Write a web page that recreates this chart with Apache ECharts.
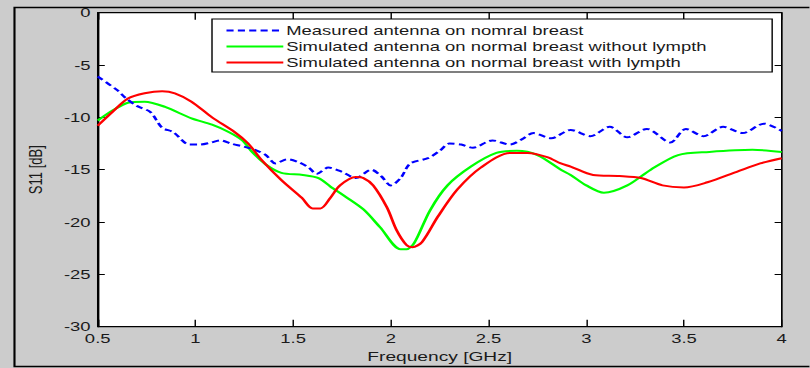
<!DOCTYPE html>
<html>
<head>
<meta charset="utf-8">
<script src="https://cdn.jsdelivr.net/npm/echarts@6/dist/echarts.min.js"></script>
<style>
  html, body { margin: 0; padding: 0; background: #cccccc; overflow: hidden; }
  #wrap { width: 810px; height: 368px; overflow: hidden; }
  /* the figure is laid out narrow and widened horizontally, like the exported plot */
  #chart { width: 570.4px; height: 368px; transform: scaleX(1.42); transform-origin: 0 0; }
</style>
</head>
<body>
<div id="wrap"><div id="chart"></div></div>
<script>
// Return loss S11 versus frequency for the breast-phantom antenna
const xTicks = [0.5, 1, 1.5, 2, 2.5, 3, 3.5, 4];
const yTicks = [0, -5, -10, -15, -20, -25, -30];

const seriesNames = [
  'Measured antenna on nomral breast',
  'Simulated antenna on normal breast without lympth',
  'Simulated antenna on normal breast with lympth'
];

const measuredFreq = [0.5, 0.6, 0.64, 0.7, 0.77, 0.83, 0.886, 0.97, 1.02, 1.08, 1.13, 1.18, 1.25, 1.305, 1.36, 1.41, 1.47, 1.53, 1.58, 1.62, 1.68, 1.75, 1.82, 1.9, 1.95, 2.0, 2.05, 2.1, 2.19, 2.25, 2.3, 2.36, 2.42, 2.52, 2.61, 2.67, 2.73, 2.82, 2.92, 3.02, 3.12, 3.21, 3.31, 3.43, 3.51, 3.6, 3.7, 3.8, 3.91, 4.0];
const measuredS11 = [-6.1, -7.4, -8.1, -8.9, -9.5, -11.0, -11.4, -12.6, -12.6, -12.4, -12.2, -12.5, -12.8, -13.1, -13.6, -14.4, -14.0, -14.3, -14.8, -15.4, -14.8, -15.2, -15.8, -15.0, -15.6, -16.5, -15.8, -14.4, -13.9, -13.2, -12.5, -12.6, -12.9, -12.2, -12.6, -12.1, -11.5, -12.0, -11.2, -11.8, -10.9, -11.9, -11.1, -12.4, -11.1, -11.8, -10.9, -11.5, -10.6, -11.3];

const noLymphFreq = [0.5, 0.58, 0.655, 0.74, 0.845, 0.98, 1.085, 1.17, 1.24, 1.29, 1.36, 1.44, 1.55, 1.63, 1.69, 1.77, 1.86, 1.945, 2.05, 2.08, 2.12, 2.2, 2.29, 2.41, 2.54, 2.645, 2.75, 2.87, 2.92, 3.0, 3.09, 3.21, 3.33, 3.47, 3.63, 3.85, 4.0];
const noLymphS11 = [-10.3, -9.3, -8.6, -8.5, -9.0, -10.1, -10.7, -11.4, -12.2, -13.3, -14.5, -15.3, -15.5, -15.8, -16.6, -17.6, -18.8, -20.5, -22.6, -22.6, -22.0, -18.9, -16.5, -14.7, -13.4, -13.2, -13.6, -15.0, -15.5, -16.5, -17.2, -16.5, -15.0, -13.6, -13.3, -13.1, -13.3];

const lymphFreq = [0.5, 0.58, 0.655, 0.74, 0.83, 0.895, 0.98, 1.085, 1.2, 1.27, 1.34, 1.44, 1.545, 1.6, 1.64, 1.69, 1.74, 1.82, 1.86, 1.91, 1.98, 2.03, 2.08, 2.11, 2.16, 2.24, 2.34, 2.46, 2.61, 2.7, 2.8, 2.87, 2.92, 3.035, 3.17, 3.28, 3.39, 3.5, 3.62, 3.77, 3.89, 4.0];
const lymphS11 = [-10.8, -9.4, -8.2, -7.7, -7.5, -7.7, -8.5, -10.0, -11.4, -12.5, -14.1, -16.0, -17.7, -18.7, -18.7, -17.7, -16.5, -15.7, -15.8, -16.5, -18.6, -20.8, -22.2, -22.4, -21.9, -19.5, -16.9, -14.8, -13.4, -13.4, -13.8, -14.4, -14.7, -15.5, -15.6, -15.8, -16.5, -16.7, -16.2, -15.2, -14.4, -13.9];

const zip = (xs, ys) => xs.map((x, i) => [x, ys[i]]);

const font = 'Liberation Sans, Arial, sans-serif';
const textColor = '#1a1a1a';

const chart = echarts.init(document.getElementById('chart'), null, { renderer: 'svg' });

const baseX = {
  type: 'value', min: xTicks[0], max: xTicks[xTicks.length - 1], interval: 0.5,
  axisLine: { onZero: false, lineStyle: { color: '#000', width: 1 } },
  axisTick: { inside: true, length: 7, lineStyle: { color: '#000' } },
  splitLine: { show: false }
};
const baseY = {
  type: 'value', min: yTicks[yTicks.length - 1], max: yTicks[0], interval: 5,
  axisLine: { onZero: false, lineStyle: { color: '#000', width: 1 } },
  axisTick: { inside: true, length: 5, lineStyle: { color: '#000' } },
  splitLine: { show: false }
};

chart.setOption({
  backgroundColor: '#cccccc',
  animation: false,
  textStyle: { fontFamily: font },
  grid: {
    left: 68.8, top: 12.7, width: 481.7, height: 314,
    outerBoundsMode: 'none', containLabel: false,
    show: true, backgroundColor: '#ffffff', borderColor: '#000', borderWidth: 1
  },
  graphic: [{
    type: 'rect', left: 7.7, top: 5, z: -1,
    shape: { width: 580, height: 359 },
    style: { fill: 'none', stroke: '#000', lineWidth: 1.5 }
  }],
  legend: {
    orient: 'vertical', left: 149.3, top: 19,
    padding: [5, 46, 3, 9.2],
    itemWidth: 40, itemHeight: 14, itemGap: 3,
    itemStyle: { opacity: 0 },
    backgroundColor: '#ffffff', borderColor: '#000', borderWidth: 1,
    textStyle: { fontFamily: font, fontSize: 13, color: textColor, padding: [0, 0, 0, -3] },
    data: seriesNames
  },
  xAxis: [
    Object.assign({}, baseX, {
      position: 'bottom',
      name: 'Frequency [GHz]', nameLocation: 'middle', nameGap: 21,
      nameTextStyle: { fontFamily: font, fontSize: 13.5, color: textColor },
      axisLabel: { margin: 5, fontFamily: font, fontSize: 13, color: textColor,
                   formatter: v => String(v) }
    }),
    Object.assign({}, baseX, { position: 'top', axisLabel: { show: false } })
  ],
  yAxis: [
    Object.assign({}, baseY, {
      position: 'left',
      name: 'S11 [dB]', nameLocation: 'middle', nameGap: 37, nameRotate: 90,
      nameTextStyle: { fontFamily: font, fontSize: 13, color: textColor },
      axisLabel: { margin: 5, fontFamily: font, fontSize: 13, color: textColor }
    }),
    Object.assign({}, baseY, { position: 'right', axisLabel: { show: false } })
  ],
  series: [
    {
      name: seriesNames[0], type: 'line', symbol: 'none', smooth: 0.3,
      data: zip(measuredFreq, measuredS11),
      lineStyle: { color: '#0000ff', width: 2, type: [5, 3] },
      itemStyle: { color: '#0000ff' }, z: 3
    },
    {
      name: seriesNames[1], type: 'line', symbol: 'none', smooth: 0.3,
      data: zip(noLymphFreq, noLymphS11),
      lineStyle: { color: '#00ff00', width: 2 },
      itemStyle: { color: '#00ff00' }, z: 2
    },
    {
      name: seriesNames[2], type: 'line', symbol: 'none', smooth: 0.3,
      data: zip(lymphFreq, lymphS11),
      lineStyle: { color: '#ff0000', width: 2 },
      itemStyle: { color: '#ff0000' }, z: 4
    }
  ]
});
</script>
</body>
</html>
